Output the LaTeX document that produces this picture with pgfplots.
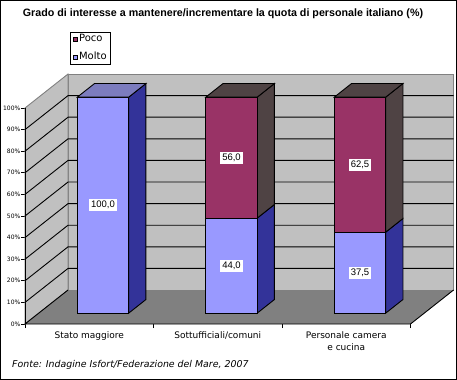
\documentclass[border=0pt]{standalone}
\usepackage{pgfplots}
\pgfplotsset{compat=1.18}
\usepackage{fontspec}
\setmainfont{DejaVu Sans}
\newfontfamily\lib{Liberation Sans}
\definecolor{wall}{HTML}{C0C0C0}
\definecolor{walledge}{HTML}{808080}
\definecolor{floorc}{HTML}{808080}
\definecolor{molto}{HTML}{9999FF}
\definecolor{moltoside}{HTML}{333399}
\definecolor{moltotop}{HTML}{7C7CBE}
\definecolor{poco}{HTML}{993366}
\definecolor{pocoside}{HTML}{4F4344}

% polygon in pseudo-3D coordinates (x, y, depth 0..1)
\newcommand{\poly}[2]{\addplot[#1, forget plot] table[row sep=\\, x expr={\thisrow{x}+0.335*\thisrow{d}}, y expr={\thisrow{y}+15.74*\thisrow{d}}] {#2} --cycle;}
\newcommand{\pline}[2]{\addplot[#1, forget plot] table[row sep=\\, x expr={\thisrow{x}+0.335*\thisrow{d}}, y expr={\thisrow{y}+15.74*\thisrow{d}}] {#2};}
% bar segment: #1 centre, #2 bottom, #3 top, #4 front colour, #5 side colour
\newcommand{\seg}[5]{%
\addplot[fill=#5, draw=black, line width=0.9bp, forget plot] table[row sep=\\, x expr={#1+\thisrow{w}+0.335*\thisrow{d}}, y expr={\thisrow{y}+15.74*\thisrow{d}}] {w y d\\ 0.2 #2 0.32\\ 0.2 #2 0.72\\ 0.2 #3 0.72\\ 0.2 #3 0.32\\} --cycle;
\addplot[fill=#4, draw=black, line width=0.9bp, forget plot] table[row sep=\\, x expr={#1+\thisrow{w}+0.335*\thisrow{d}}, y expr={\thisrow{y}+15.74*\thisrow{d}}] {w y d\\ -0.2 #2 0.32\\ 0.2 #2 0.32\\ 0.2 #3 0.32\\ -0.2 #3 0.32\\} --cycle;}
% bar top: #1 centre, #2 height, #3 colour
\newcommand{\bartop}[3]{%
\addplot[fill=#3, draw=black, line width=0.9bp, forget plot] table[row sep=\\, x expr={#1+\thisrow{w}+0.335*\thisrow{d}}, y expr={\thisrow{y}+15.74*\thisrow{d}}] {w y d\\ -0.2 #2 0.32\\ 0.2 #2 0.32\\ 0.2 #2 0.72\\ -0.2 #2 0.72\\} --cycle;}
\newcommand{\seglabel}[4]{\node[lab] at (axis cs:{#1+0.107},{(#2+#3)/2+5.04}) {#4};}

\begin{document}
\begin{tikzpicture}[lab/.style={fill=white, inner xsep=2bp, inner ysep=2bp, font=\lib\fontsize{9.5bp}{10bp}\selectfont}]
\begin{axis}[
  x=128.5bp, y=2.16bp,
  xmin=0, xmax=3.335, ymin=0, ymax=115.74,
  clip=false,
  axis x line*=bottom, axis y line*=left,
  axis line style={draw=none},
  tick align=outside,
  major tick length=4bp,
  tick style={black, line width=0.9bp},
  ytick={0,10,...,100},
  yticklabels={0\%,10\%,20\%,30\%,40\%,50\%,60\%,70\%,80\%,90\%,100\%},
  yticklabel style={font=\fontsize{6bp}{7bp}\selectfont, inner xsep=0.5bp},
  xtick={0,1,2,3},
  xticklabels={,,,},
  extra x ticks={0.5,1.5,2.5},
  extra x tick labels={Stato maggiore,Sottufficiali/comuni,{Personale camera\\e cucina}},
  extra x tick style={major tick length=0pt},
  xticklabel style={font=\fontsize{9bp}{12bp}\selectfont, align=center, yshift=-4.5bp},
  legend style={at={(axis cs:0.3502,135.05)}, anchor=north west, draw=black, fill=white,
    font=\fontsize{10bp}{11bp}\selectfont, inner xsep=2.5bp, inner ysep=1.5bp,
    nodes={inner sep=1bp, text height=7bp, text depth=2bp}, row sep=7bp},
  legend cell align=left,
  legend image code/.code={\draw[#1] (0bp,-2.2bp) rectangle (4.5bp,2.2bp);},
]
% walls and floor
\poly{fill=wall, draw=walledge, line width=0.9bp}{x y d\\ 0 0 1\\ 3 0 1\\ 3 100 1\\ 0 100 1\\}
\poly{fill=wall, draw=walledge, line width=0.9bp}{x y d\\ 0 0 0\\ 0 0 1\\ 0 100 1\\ 0 100 0\\}
\poly{fill=floorc, draw=none}{x y d\\ 0 0 0\\ 3 0 0\\ 3 0 1\\ 0 0 1\\}
% gridlines
\pgfplotsinvokeforeach{10,20,30,40,50,60,70,80,90}{
\pline{black, line width=0.9bp}{x y d\\ 0 #1 0\\ 0 #1 1\\ 3 #1 1\\}
}
\pline{black, line width=0.9bp}{x y d\\ 0 0 1\\ 0 0 0\\ 3 0 0\\ 3 0 1\\}
\pline{black, line width=0.9bp}{x y d\\ 0 0 0\\ 0 100 0\\}

% bars: Molto (bottom), Poco (top)
\seg{0.5}{0}{100}{molto}{moltoside}
\bartop{0.5}{100}{moltotop}
\seg{1.5}{0}{44}{molto}{moltoside}
\seg{1.5}{44}{100}{poco}{pocoside}
\bartop{1.5}{100}{pocoside}
\seg{2.5}{0}{37.5}{molto}{moltoside}
\seg{2.5}{37.5}{100}{poco}{pocoside}
\bartop{2.5}{100}{pocoside}

\seglabel{0.5}{0}{100}{100,0}
\seglabel{1.5}{0}{44}{44,0}
\seglabel{1.5}{44}{100}{56,0}
\seglabel{2.5}{0}{37.5}{37,5}
\seglabel{2.5}{37.5}{100}{62,5}

\addlegendimage{fill=poco, draw=black, line width=0.9bp}
\addlegendentry{Poco}
\addlegendimage{fill=molto, draw=black, line width=0.9bp}
\addlegendentry{Molto}
\end{axis}
\node[font=\lib\bfseries\fontsize{10.7bp}{12bp}\selectfont, anchor=base] at (198bp,307bp)
  {Grado di interesse a mantenere/incrementare la quota di personale italiano (\%)};
\node[font=\itshape\fontsize{9.4bp}{11bp}\selectfont, anchor=base west, inner sep=0pt] at (-13bp,-43bp)
  {Fonte: Indagine Isfort/Federazione del Mare, 2007};
\pgfresetboundingbox
\useasboundingbox (-25bp,-56bp) rectangle (432bp,324bp);
\draw[line width=1bp] (-24.5bp,-55.5bp) rectangle (431.5bp,323.5bp);
\end{tikzpicture}
\end{document}
